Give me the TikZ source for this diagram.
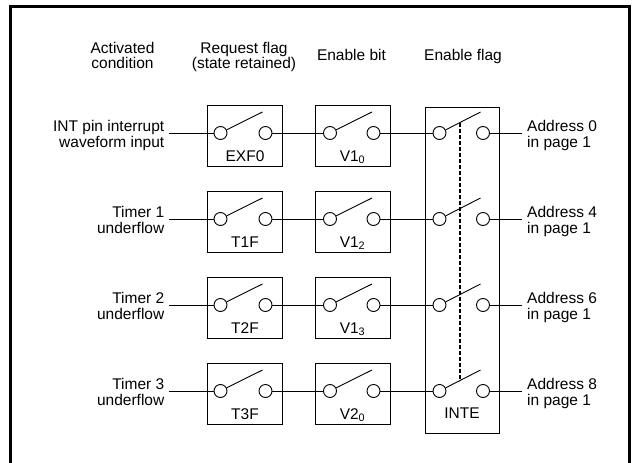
\documentclass[tikz,border=0pt]{standalone}
\usepackage{fontspec}
\setmainfont{Liberation Sans}
\usetikzlibrary{calc}
\begin{document}
\begin{tikzpicture}[x=1pt,y=-1pt,
  font={\fontsize{15.5}{15.5}\selectfont\lineskiplimit=-10pt},
  wire/.style={line width=0.9pt},
  frame/.style={line width=3pt},
  flagbox/.style={draw, line width=0.9pt, minimum width=75pt, minimum height=61pt, inner sep=0pt},
  intebox/.style={draw, line width=0.9pt, minimum width=74pt, minimum height=326pt, inner sep=0pt},
  pin/.style={draw, circle, line width=0.9pt, minimum size=13pt, inner sep=0pt},
  gang/.style={line width=1.8pt, dash pattern=on 4pt off 2pt},
  lbl/.style={inner sep=0pt}]
\useasboundingbox (0,0) rectangle (632,463);
% outer frame (open at the bottom)
\draw[frame] (10.5,463) -- (10.5,6.5) -- (629.5,6.5) -- (629.5,463);
% column headings
\node[lbl, align=center] (hcond) at (122.5,55.6) {Activated\\condition};
\node[lbl, align=center] (hreq) at (244,57.2) {Request flag\\(state retained)};
\node[lbl, anchor=base] (hbit) at (351.5,60.5) {Enable bit};
\node[lbl, anchor=base] (hflag) at (463,60.5) {Enable flag};
% enable flag box
\node[intebox] (inte) at (462,270) {};
\node[lbl, anchor=base] (intet) at (462,418) {INTE};
% rows
\foreach \r/\y/\dy/\cond/\flag/\bit/\addr in {
  1/133/2.5/{INT pin interrupt\\waveform input}/EXF0/{V1\textsubscript{0}}/0,
  2/219/0.85/{Timer 1\\underflow}/T1F/{V1\textsubscript{2}}/4,
  3/305/0.85/{Timer 2\\underflow}/T2F/{V1\textsubscript{3}}/6,
  4/391/0.85/{Timer 3\\underflow}/T3F/{V2\textsubscript{0}}/8} {
  % request flag
  \node[flagbox] (rf\r) at (245,\y+2.5) {};
  \node[lbl, anchor=base] (rft\r) at (245,\y+28) {\flag};
  \node[pin] (rL\r) at (220.5,\y) {};
  \node[pin] (rR\r) at (265.5,\y) {};
  \coordinate (ra\r) at ($(rL\r)+(42,-21)$);
  \draw[wire] (rL\r.27) -- (ra\r);
  % enable bit
  \node[flagbox] (vb\r) at (352.5,\y+2.5) {};
  \node[lbl, anchor=base] (vbt\r) at (352.5,\y+28) {\bit};
  \node[pin] (vL\r) at (330,\y) {};
  \node[pin] (vR\r) at (373.5,\y) {};
  \coordinate (va\r) at ($(vL\r)+(42,-21)$);
  \draw[wire] (vL\r.27) -- (va\r);
  % enable flag switch
  \node[pin] (eL\r) at (439.5,\y) {};
  \node[pin] (eR\r) at (483,\y) {};
  \coordinate (ea\r) at ($(eL\r)+(41,-21)$);
  \draw[wire] (eL\r.27) -- (ea\r);
  % labels
  \node[align=right, anchor=east, inner xsep=4.5pt, inner ysep=0pt] (cond\r) at (169,\y+\dy) {\cond};
  \node[align=left, anchor=west, inner xsep=5pt, inner ysep=0pt] (addr\r) at (522,\y+2.3) {Address \addr\\in page 1};
  % connectors
  \draw[wire] (cond\r.east |- rL\r) -- (rL\r);
  \draw[wire] (rR\r) -- (vL\r);
  \draw[wire] (vR\r) -- (eL\r);
  \draw[wire] (eR\r) -- (addr\r.west |- eR\r);
}
% mechanical link of the enable flag switches
\draw[gang] ($(eL1.27)!0.4!(ea1)$) -- ($(eL4.27)!0.4!(ea4)$);
\end{tikzpicture}
\end{document}
